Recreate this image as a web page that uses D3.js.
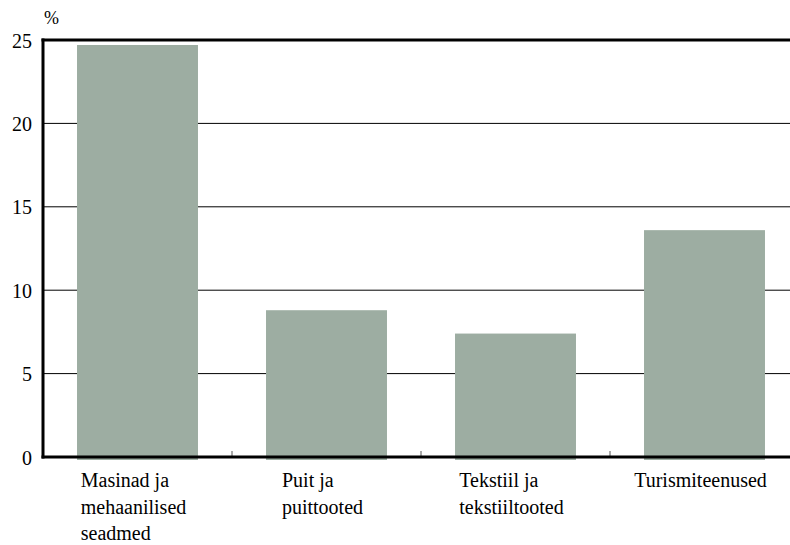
<!DOCTYPE html>
<html>
<head>
<meta charset="utf-8">
<script src="https://cdn.jsdelivr.net/npm/d3@7"></script>
</head>
<body style="margin:0">
<svg id="chart"></svg>
<script>
const categories = [
    ['Masinad ja', 'mehaanilised', 'seadmed'],
    ['Puit ja', 'puittooted'],
    ['Tekstiil ja', 'tekstiiltooted'],
    ['Turismiteenused']
];
const values = [24.7, 8.8, 7.4, 13.6];
const yTicks = [0, 5, 10, 15, 20, 25];

const width = 790, height = 545;
const plotLeft = 43, plotRight = 799, plotTop = 40, plotBottom = 457;
const font = "'Liberation Serif', serif";
// text is set at 24px and scaled down to the wanted size
const baseSize = 24;
const labelScale = 20 / baseSize;

const svg = d3.select('#chart')
    .attr('width', width)
    .attr('height', height);

const keys = categories.map((d, i) => i);

const xScale = d3.scaleBand()
    .domain(keys)
    .range([plotLeft, plotRight])
    .paddingInner(0.36)
    .paddingOuter(0.18);

const yScale = d3.scaleLinear()
    .domain([0, 25])
    .range([plotBottom, plotTop]);

// Gridlines
svg.append('g')
    .selectAll('line')
    .data(yTicks.filter(d => d > 0 && d < 25))
    .join('line')
    .attr('x1', plotLeft)
    .attr('x2', width)
    .attr('y1', d => yScale(d))
    .attr('y2', d => yScale(d))
    .attr('stroke', '#000')
    .attr('stroke-width', 1);

// Bars
svg.append('g')
    .selectAll('rect')
    .data(values)
    .join('rect')
    .attr('x', (d, i) => xScale(i))
    .attr('width', xScale.bandwidth())
    .attr('y', d => yScale(d))
    .attr('height', d => yScale(0) - yScale(d) + 3)
    .attr('fill', '#9dada2');

// Category separator ticks
const step = xScale.step();
svg.append('g')
    .selectAll('line')
    .data(keys.slice(1))
    .join('line')
    .attr('x1', d => plotLeft + d * step)
    .attr('x2', d => plotLeft + d * step)
    .attr('y1', plotBottom - 6)
    .attr('y2', plotBottom)
    .attr('stroke', '#555')
    .attr('stroke-width', 1);

// Frame lines
svg.append('line')
    .attr('x1', plotLeft - 1.5).attr('x2', width)
    .attr('y1', plotTop).attr('y2', plotTop)
    .attr('stroke', '#000').attr('stroke-width', 3);
svg.append('line')
    .attr('x1', plotLeft - 1.5).attr('x2', width)
    .attr('y1', plotBottom).attr('y2', plotBottom)
    .attr('stroke', '#000').attr('stroke-width', 3);
svg.append('line')
    .attr('x1', plotLeft).attr('x2', plotLeft)
    .attr('y1', plotTop - 1.5).attr('y2', plotBottom + 1.5)
    .attr('stroke', '#000').attr('stroke-width', 3);

// Y tick labels
svg.append('g')
    .selectAll('g')
    .data(yTicks)
    .join('g')
    .attr('transform', d => `translate(32,${yScale(d)}) scale(${labelScale})`)
    .append('text')
    .attr('font-family', font)
    .attr('font-size', baseSize)
    .attr('dy', '0.38em')
    .attr('text-anchor', 'end')
    .text(d => d);

// Unit
svg.append('g')
    .attr('transform', `translate(44,24) scale(${18 / baseSize})`)
    .append('text')
    .attr('font-family', font)
    .attr('font-size', baseSize)
    .text('%');

// Category labels: lines left-aligned, block centred under the bar
categories.forEach((lines, i) => {
    const g = svg.append('g');
    const t = g.append('text')
        .attr('font-family', font)
        .attr('font-size', baseSize);
    t.selectAll('tspan')
        .data(lines)
        .join('tspan')
        .attr('x', 0)
        .attr('y', (d, j) => j * 26.5 / labelScale)
        .text(d => d);
    const w = d3.max(t.selectAll('tspan').nodes(), n => n.getComputedTextLength()) * labelScale;
    const cx = xScale(i) + xScale.bandwidth() / 2;
    g.attr('transform', `translate(${cx - w / 2 - 4},487) scale(${labelScale})`);
});
</script>
</body>
</html>
